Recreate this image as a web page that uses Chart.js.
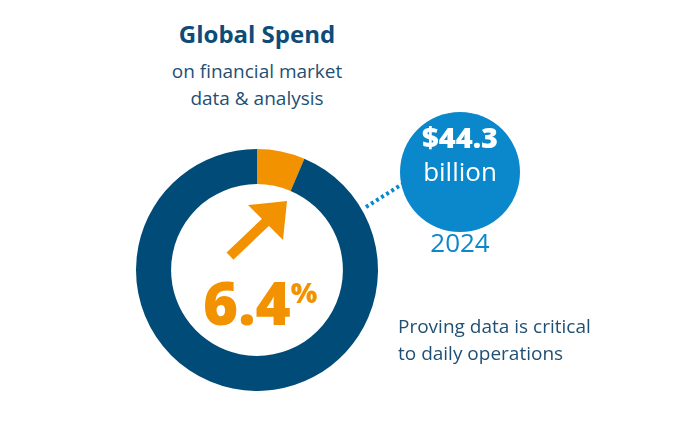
<!DOCTYPE html>
<html><head><meta charset="utf-8">
<script src="https://cdn.jsdelivr.net/npm/chart.js@4"></script>
<style>
body{margin:0;width:700px;height:433px;background:#fff;position:relative;overflow:hidden;font-family:"Open Sans",sans-serif}
.t{position:absolute;white-space:nowrap}
#wrap{position:absolute;left:136px;top:149px;width:242px;height:242px}
#bubble{position:absolute;left:400px;top:112px;width:120px;height:120px;border-radius:50%;background:#0a88cb}
</style></head><body>
<div class="t" style="left:0;width:514px;text-align:center;top:17px;font-size:24px;font-weight:700;color:#0d4c78">Global Spend</div>
<div class="t" style="left:0;width:514px;text-align:center;top:58px;font-size:19px;color:#1f4f73;line-height:27px">on financial market<br>data &amp; analysis</div>
<div id="wrap"><canvas id="c"></canvas></div>
<svg class="t" style="left:0;top:0" width="700" height="433">
  <line x1="366" y1="207" x2="404" y2="183" stroke="#0a88cb" stroke-width="4" stroke-dasharray="3,3"/>
  <line x1="230" y1="256" x2="270" y2="218" stroke="#f39200" stroke-width="10"/>
  <polygon points="287,201 248,205 283,240" fill="#f39200"/>
</svg>
<div class="t" style="left:203px;top:262px;font-size:60px;font-weight:800;color:#f39200;line-height:60px">6.4<span style="font-size:28px;vertical-align:22px">%</span></div>
<div id="bubble"></div>
<div class="t" style="left:400px;width:120px;text-align:center;top:120px;font-size:29px;line-height:34px;font-weight:800;color:#fff">$44.3</div>
<div class="t" style="left:400px;width:120px;text-align:center;top:155px;font-size:26px;line-height:32px;color:#fff">billion</div>
<div class="t" style="left:400px;width:120px;text-align:center;top:224px;font-size:26px;color:#0a88cb">2024</div>
<div class="t" style="left:398px;top:313px;font-size:19px;color:#1f4f73;line-height:27px">Proving data is critical<br>to daily operations</div>
<script>
const labels = ["Growth", "Rest"];
const values = [6.4, 93.6];
const colors = ["#f39200", "#004b78"];
new Chart(document.getElementById("c"), {
  type: "doughnut",
  data: { labels, datasets: [{ data: values, backgroundColor: colors, borderWidth: 0 }] },
  options: {
    responsive: true, maintainAspectRatio: false, animation: false, cutout: "71%",
    plugins: { legend: { display: false }, tooltip: { enabled: false } }
  }
});
</script>
</body></html>
